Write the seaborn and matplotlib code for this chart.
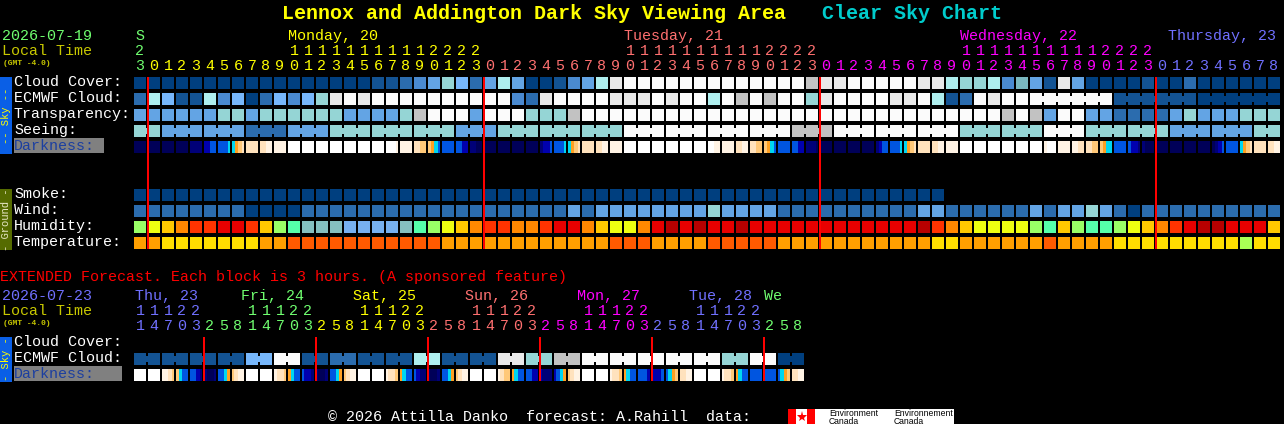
import matplotlib
matplotlib.use("Agg")
import matplotlib.pyplot as plt
from matplotlib.colors import ListedColormap, LinearSegmentedColormap
from matplotlib.patches import Rectangle
import numpy as np
import pandas as pd
import seaborn as sns

sns.set_style("dark")
plt.rcParams["font.family"] = ["Liberation Mono", "DejaVu Sans Mono"]

W, H = 1284, 424
DOT = 72 / 100  # one pixel in points

# block values, one line per day (first block = hour 23 of Sunday)
cloud_cover = list("0"
                   "000000000000000011234652"
                   "47400134789999999999999g"
                   "88999998876673T418400001"
                   "002000000")
ecmwf_cloud = list("2"
                   "751173502535689899999999"
                   "993289999888989979g9g996"
                   "899998897129899999999111"
                   "111000000")
transparency = list("4"
                    "4444466466666644446g9994"
                    "999666g99999999999999999"
                    "9999999999999g9g49944222"
                    "246444666")
seeing = list("6"
              "644444422244466666666644"
              "466666666699999999" "9999gg"
              "g99999999966666699966666"
              "644444466")
smoke = list("0"
             "000000000000000000000000"
             "000000000000000000000000"
             "000000000..............."
             ".........")
wind = list("2"
            "222222200002222222222222"
            "222222424444444464444222"
            "222222244222222424464202"
            "222222222")
humidity = list("l"
                "ygoRRrrRglmtttbbbbtmlygo"
                "RRooRrrogyyordrdrrdrrrrr"
                "rrrrrrrdRogyyyylmglmmlyg"
                "oRrddrrrg")
temperature = list("a"
                   "ayyyyyyyaaRRRRRRRRRRRaaa"
                   "aaaaaaaaaRRRaaaaRRRRRaaa"
                   "aaaaaaaayyaaaaaaRaaaayyy"
                   "yyyyyylyy")
ext_ecmwf = list("111111" "11" "55" "99" "11" "22" "11" "11" "77"
                 "11" "11" "88" "66" "gg" "99" "99" "99" "99" "99" "66" "99" "00")

# darkness has 4 readings per block
darkness = """0000
0000 0000 0000 1111 2233 3334 4567 7777 7788 8888 9999 9999
9999 9999 9999 9999 9999 9998 8888 7766 6543 3333 3322 1100
0000 0000 0000 0000 1223 3334 4567 7777 7788 8888 9999 9999
9999 9999 9999 9999 9988 8888 7788 7766 6543 3333 3322 1110
0000 0000 0000 0000 1233 3334 4567 7777 7788 8888 9999 9999
9999 9999 9999 9999 8999 8888 8877 7766 6544 3333 3221 1000
0000 0000 0000 0000 0123 3333 4567 7777 7788""".split()
ext_darkness = """9999 9999 8876 6433 3321 1001 3345 6788
9999 9999 8776 5433 3221 1001 3345 6788
9999 9999 8776 5433 3211 1001 3345 6788
9999 9999 8766 5433 3322 2111 2345 6788
9999 9999 8776 5433 3332 2223 3456 7788
9999 9999 8776 5433 3333 3333 3456 7788""".split()

# 1 = block is joined to the one on its left (forecast coarser than the block size)
ecmwf_joined = list("0"
                    "000000000000000000000000"
                    "000000000000000000000000"
                    "000000000000000011111011"
                    "111011111")
seeing_joined = list("0"
                     "101101101101101101101101"
                     "101101101101101101101101"
                     "101101101101101101101101"
                     "101101101")
ext_joined = list("01" * 24)

# palettes
sky_codes = list("0123456789gT")
sky_colors = ["#003F7F", "#135393", "#2B6CAE", "#4A8AD0", "#63A4E4", "#77B7FB",
              "#95D5D5", "#AEEEEE", "#E9E9E9", "#FBFBFB", "#C2C2C2", "#7AB8BF"]
hum_codes = list("btmlygoRrd")
hum_colors = ["#77B0F0", "#85BFBF", "#55FFAA", "#99FF66", "#EEFF11", "#FFC800",
              "#FF8800", "#FF3300", "#E80000", "#B80000"]
temp_codes = list("yaRl")
temp_colors = ["#FFDD00", "#FF9F00", "#FF5A00", "#AAFF55"]
dark_colors = ["#000058", "#000078", "#0000B0", "#0055E0", "#00D8F0",
               "#FFA020", "#FFC878", "#FFE2BC", "#FFF3E4", "#FFFFFF"]

# header text
main_days = [("S", 135, "#70FF70"), ("Monday, 20", 288, "#FFFF00"),
             ("Tuesday, 21", 624, "#FF7070"), ("Wednesday, 22", 960, "#FF00FF"),
             ("Thursday, 23", 1168, "#7070FF")]
main_units = list("3"
                  "012345678901234567890123"
                  "012345678901234567890123"
                  "012345678901234567890123"
                  "012345678")
main_tens = list("2"
                 "          11111111112222"
                 "          11111111112222"
                 "          11111111112222"
                 "         ")
main_color_idx = [0] + [1] * 24 + [2] * 24 + [3] * 24 + [4] * 9
ext_days = [("Thu, 23", 135, "#7070FF"), ("Fri, 24", 241, "#70FF70"),
            ("Sat, 25", 353, "#FFFF00"), ("Sun, 26", 465, "#FF7070"),
            ("Mon, 27", 577, "#FF00FF"), ("Tue, 28", 689, "#7070FF"),
            ("We", 764, "#70FF70")]
ext_units = list("14703" "25814703" "25814703" "25814703" "25814703" "25814703" "258")
ext_tens = list("11122" "   11122" "   11122" "   11122" "   11122" "   11122" "   ")
ext_color_idx = [4] * 5 + [0] * 8 + [1] * 8 + [2] * 8 + [3] * 8 + [4] * 8 + [0] * 3
day_colors = ["#70FF70", "#FFFF00", "#FF7070", "#FF00FF", "#7070FF"]
main_midnights = [1, 25, 49, 73]
ext_midnights = [5, 13, 21, 29, 37, 45]

fig = plt.figure(figsize=(W / 100, H / 100), dpi=100, facecolor="black")


def gap(ax, x, y0, y1, color="black"):
    # snapping would fatten these to 3 px
    ax.vlines(x, y0, y1, color=color, lw=2 * DOT).set_snap(False)


def add_row(values, y, cmap, vmin, vmax, sub=1, joined=None):
    """one row of blocks, one heatmap per row"""
    vals = np.asarray(values, dtype=float).reshape(1, -1)
    n = vals.shape[1] // sub
    ax = fig.add_axes([133 / W, 1 - (y + 12) / H, 14 * n / W, 12 / H])
    sns.heatmap(pd.DataFrame(vals), ax=ax, cmap=cmap, vmin=vmin, vmax=vmax,
                cbar=False, xticklabels=False, yticklabels=False,
                mask=np.isnan(vals))
    ax.set_facecolor("black")
    for i in range(n + 1):
        if joined is not None and i < n and joined[i] == "1":
            # joined blocks only keep a notch top and bottom
            gap(ax, i * sub, 0, 0.25)
            gap(ax, i * sub, 0.75, 1)
        else:
            gap(ax, i * sub, 0, 1)
    return ax


def coded(cells, codes):
    return [codes.index(c) if c in codes else np.nan for c in cells]


def listed(colors):
    return ListedColormap(colors), -0.5, len(colors) - 0.5


def digits(cells):
    return [int(c) for block in cells for c in block]


sky = listed(sky_colors)
hum = listed(hum_colors)
temp = listed(temp_colors)
dark = LinearSegmentedColormap.from_list("dark", dark_colors)

add_row(coded(cloud_cover, sky_codes), 77, *sky)
add_row(coded(ecmwf_cloud, sky_codes), 93, *sky, joined=ecmwf_joined)
add_row(coded(transparency, sky_codes), 109, *sky)
add_row(coded(seeing, sky_codes), 125, *sky, joined=seeing_joined)
add_row(digits(darkness), 141, dark, 0, 9, sub=4)
add_row(coded(smoke, sky_codes), 189, *sky)
add_row(coded(wind, sky_codes), 205, *sky)
add_row(coded(humidity, hum_codes), 221, *hum)
add_row(coded(temperature, temp_codes), 237, *temp)
add_row(coded(ext_ecmwf, sky_codes), 353, *sky, joined=ext_joined)
add_row(digits(ext_darkness), 369, dark, 0, 9, sub=4)

# overlay in pixel coordinates for the text, side bars and midnight lines
ov = fig.add_axes([0, 0, 1, 1], zorder=5)
ov.set_xlim(0, W)
ov.set_ylim(H, 0)
ov.axis("off")
ov.patch.set_alpha(0)

FS = 10.8
LOCAL = "#C8C800"


def txt(x, y, s, color="white", size=FS, **kw):
    ov.text(x, y, s, color=color, fontsize=size, va="baseline", ha=kw.pop("ha", "left"), **kw)


# title
txt(282, 19, "Lennox and Addington Dark Sky Viewing Area", "#FFFF00", 14.4, fontweight="bold")
txt(822, 19, "Clear Sky Chart", "#00CCCC", 14.4, fontweight="bold")

# main header
txt(2, 40, "2026-07-19", "#70FF70")
txt(2, 55, "Local Time", LOCAL)
txt(3, 65, "(GMT -4.0)", LOCAL, 5.8, fontweight="bold")
for label, x, col in main_days:
    txt(x, 40, label, col)
for k, (t, u, c) in enumerate(zip(main_tens, main_units, main_color_idx)):
    xc = 140 + 14 * k
    txt(xc, 55, t, day_colors[c], ha="center")
    txt(xc, 70, u, day_colors[c], ha="center")

# row labels
for label, y in [("Cloud Cover:", 86), ("ECMWF Cloud:", 102), ("Transparency:", 118),
                 ("Seeing:", 134), ("Smoke:", 198), ("Wind:", 214), ("Humidity:", 230),
                 ("Temperature:", 246), ("Cloud Cover:", 346), ("ECMWF Cloud:", 362)]:
    txt(14, y, label)
ov.add_patch(Rectangle((14, 138), 90, 15, color="#808080", lw=0))
txt(14, 150, "Darkness:", "#1C3FA0")
ov.add_patch(Rectangle((14, 366), 108, 15, color="#808080", lw=0))
txt(14, 378, "Darkness:", "#1C3FA0")

# side bars
for y0, y1, col, label, tcol in [(77, 154, "#0A5FE6", "-- Sky --", "#FFFF00"),
                                 (189, 250, "#556B00", "- Ground -", "#E8E8C8"),
                                 (337, 382, "#0A5FE6", "- Sky -", "#FFFF00")]:
    ov.add_patch(Rectangle((0, y0), 12, y1 - y0, color=col, lw=0))
    ov.text(6, (y0 + y1) / 2, label, color=tcol, fontsize=7.6, rotation=90,
            ha="center", va="center")

# extended forecast
txt(0, 281, "EXTENDED Forecast. Each block is 3 hours. (A sponsored feature)", "#FF0000")
txt(2, 300, "2026-07-23", "#7070FF")
txt(2, 315, "Local Time", LOCAL)
txt(3, 325, "(GMT -4.0)", LOCAL, 5.8, fontweight="bold")
for label, x, col in ext_days:
    txt(x, 300, label, col)
for k, (t, u, c) in enumerate(zip(ext_tens, ext_units, ext_color_idx)):
    xc = 140 + 14 * k
    txt(xc, 315, t, day_colors[c], ha="center")
    txt(xc, 330, u, day_colors[c], ha="center")

# midnight lines
for k in main_midnights:
    gap(ov, 134 + 14 * k, 77, 249, color="#FF0000")
for k in ext_midnights:
    gap(ov, 134 + 14 * k, 337, 381, color="#FF0000")

# footer and logo
txt(328, 421, "\u00a9 2026 Attilla Danko  forecast: A.Rahill  data:")
ov.add_patch(Rectangle((788, 409), 166, 15, color="white", lw=0))
ov.add_patch(Rectangle((788, 409), 8, 15, color="#FF0000", lw=0))
ov.add_patch(Rectangle((807, 409), 8, 15, color="#FF0000", lw=0))
ov.plot([801.5], [416.5], marker="*", ms=8, color="#FF0000", mew=0)
for x, label in [(829, "Environment"), (894, "Environnement")]:
    ov.text(x, 415.5, label, color="black", fontsize=6.2, family="Liberation Sans", va="baseline")
    ov.text(x, 423.5, "Canada", color="black", fontsize=6.2, family="Liberation Sans", va="baseline")

fig.savefig("out.png", dpi=100, facecolor="black")
